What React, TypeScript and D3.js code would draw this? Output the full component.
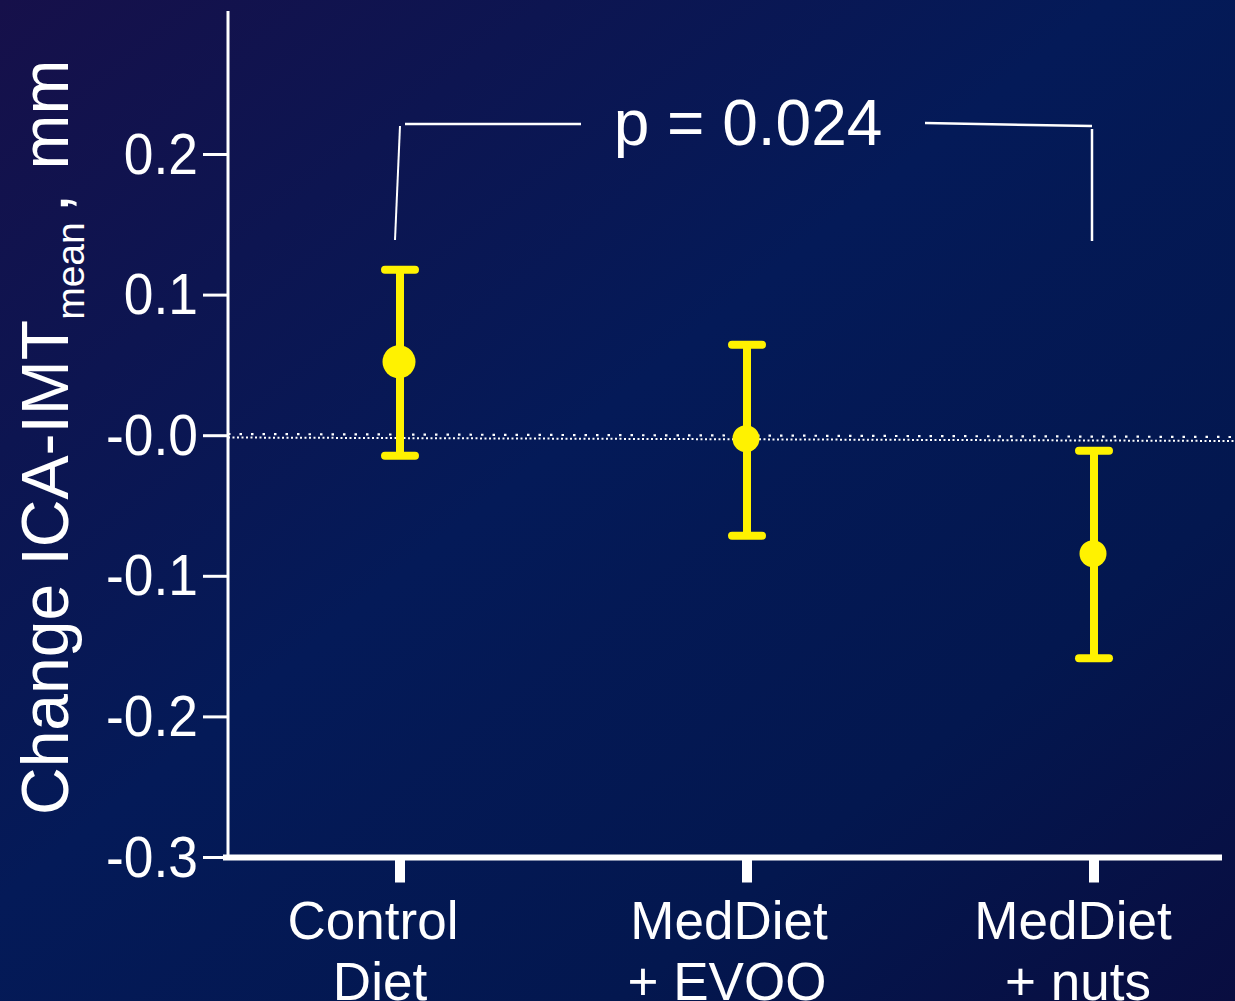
import React from "react";
import * as d3 from "d3";

const categories = ["Control Diet", "MedDiet + EVOO", "MedDiet + nuts"];
const labelLine1 = ["Control", "MedDiet", "MedDiet"];
const labelLine2 = ["Diet", "+ EVOO", "+ nuts"];
const labelOffset1 = [-27, -18, -21];
const labelOffset2 = [-20, -20, -16];
const means = [0.0526, -0.0021, -0.0839];
const upper = [0.118, 0.0647, -0.0107];
const lower = [-0.0142, -0.0711, -0.1583];
const pointRadius = [16.5, 13.5, 13.5];
const yTicks = [0.2, 0.1, 0.0, -0.1, -0.2, -0.3];
const yTickLabels = ["0.2", "0.1", "-0.0", "-0.1", "-0.2", "-0.3"];
const pText = "p = 0.024";

const W = 1235;
const H = 1001;
const FONT = "'Liberation Sans', Arial, sans-serif";
const YELLOW = "#fff200";

export default function App() {
  const y = d3.scaleLinear().domain([-0.3, 0.2]).range([857.5, 154.5]);
  const x = d3.scalePoint<string>().domain(categories).range([400, 1094]);
  const axisX = 228;
  const baseY = y(-0.3);

  return (
    <svg
      width={W}
      height={H}
      style={{ position: "absolute", left: 0, top: 0, display: "block" }}
      fontFamily={FONT}
    >
      <defs>
        <linearGradient id="bg" x1="0" y1="0" x2="1" y2="1">
          <stop offset="0" stopColor="#16104a" />
          <stop offset="0.45" stopColor="#041a58" />
          <stop offset="0.75" stopColor="#03174f" />
          <stop offset="1" stopColor="#090d40" />
        </linearGradient>
      </defs>
      <rect x={0} y={0} width={W} height={H} fill="url(#bg)" />

      {/* zero reference dotted line */}
      <line x1={axisX} y1={434} x2={W} y2={437} stroke="#fff" strokeWidth={2.2} strokeDasharray="2.5 9" />
      <line x1={axisX} y1={437.5} x2={W} y2={441} stroke="#fff" strokeWidth={2} strokeDasharray="2 2.5" />

      {/* y axis */}
      <line x1={axisX} y1={11} x2={axisX} y2={baseY} stroke="#fff" strokeWidth={3} />
      {yTicks.map((t, i) => (
        <g key={i}>
          <line x1={203} x2={axisX} y1={y(t)} y2={y(t)} stroke="#fff" strokeWidth={3} />
          <g transform={`translate(198,${y(t) + 19}) scale(0.92,1)`}>
            <text x={0} y={0} fill="#fff" fontSize={58} textAnchor="end">
              {yTickLabels[i]}
            </text>
          </g>
        </g>
      ))}

      {/* x axis */}
      <line x1={223} x2={1222} y1={baseY} y2={baseY} stroke="#fff" strokeWidth={6} />
      {categories.map((c, i) => (
        <g key={c}>
          <rect x={x(c)! - 5} y={baseY} width={10} height={25} fill="#fff" />
          <text x={x(c)! + labelOffset1[i]} y={939} fill="#fff" fontSize={53} textAnchor="middle">
            {labelLine1[i]}
          </text>
          <text x={x(c)! + labelOffset2[i]} y={1000} fill="#fff" fontSize={53} textAnchor="middle">
            {labelLine2[i]}
          </text>
        </g>
      ))}

      {/* y axis title */}
      <text transform="translate(68,815) rotate(-90)" fill="#fff" fontSize={66}>
        <tspan>Change ICA-IMT</tspan>
        <tspan fontSize={39} dy={16}>mean</tspan>
        <tspan dy={-16} dx={10}>, </tspan>
        <tspan dx={6}>mm</tspan>
      </text>

      {/* error bars */}
      {categories.map((c, i) => {
        const cx = x(c)!;
        return (
          <g key={c}>
            <line x1={cx} x2={cx} y1={y(upper[i])} y2={y(lower[i])} stroke={YELLOW} strokeWidth={8} />
            <line x1={cx - 15} x2={cx + 15} y1={y(upper[i])} y2={y(upper[i])} stroke={YELLOW} strokeWidth={8} strokeLinecap="round" />
            <line x1={cx - 15} x2={cx + 15} y1={y(lower[i])} y2={y(lower[i])} stroke={YELLOW} strokeWidth={8} strokeLinecap="round" />
            <circle cx={cx - 1} cy={y(means[i])} r={pointRadius[i]} fill={YELLOW} />
          </g>
        );
      })}

      {/* significance bracket */}
      <polyline points="395,240 400,126" fill="none" stroke="#fff" strokeWidth={2} />
      <polyline points="405,124 581,124" fill="none" stroke="#fff" strokeWidth={2.5} />
      <polyline points="925,123 1092,126" fill="none" stroke="#fff" strokeWidth={2.5} />
      <polyline points="1092,129 1092,241" fill="none" stroke="#fff" strokeWidth={2.5} />
      <text x={748} y={145} fill="#fff" fontSize={64} textAnchor="middle">
        {pText}
      </text>
    </svg>
  );
}
